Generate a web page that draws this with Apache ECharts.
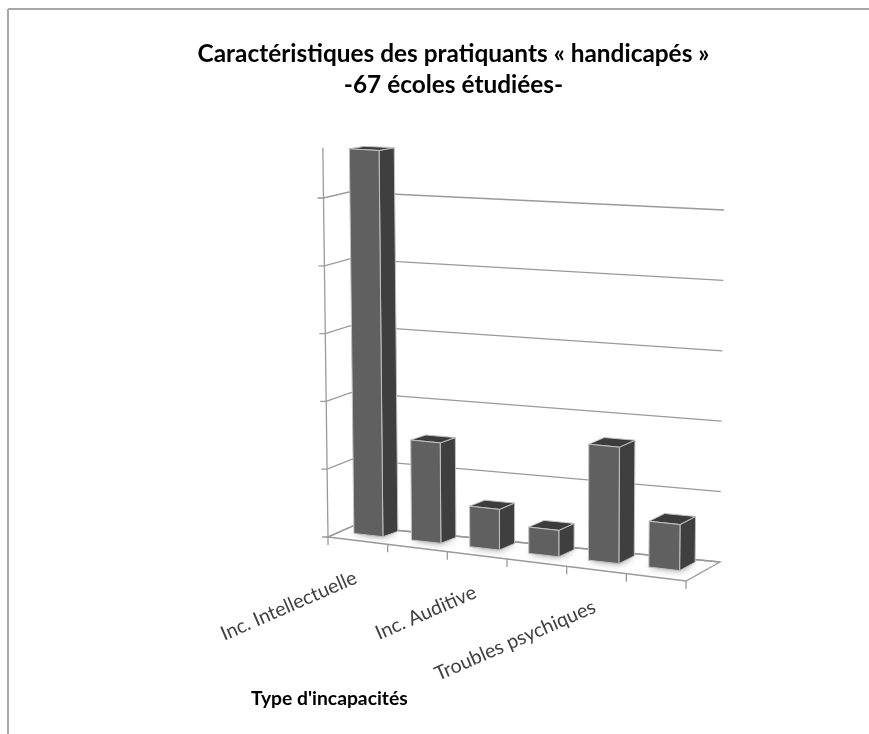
<!DOCTYPE html>
<html>
<head>
<meta charset="utf-8">
<style>
  html, body { margin: 0; padding: 0; background: #fff; }
  #chart { width: 869px; height: 734px; }
</style>
<script src="https://cdn.jsdelivr.net/npm/echarts@6/dist/echarts.min.js"></script>
</head>
<body>
<div id="chart"></div>
<script>
// labels only exist for every other bar in the picture
const categories = ["Inc. Intellectuelle", "", "Inc. Auditive", "", "Troubles psychiques", ""];
const barValues = [57.0, 14.7, 5.9, 3.8, 16.6, 6.5];
const yTicks = [0, 10, 20, 30, 40, 50];
const yTop = 57.4;
const titleLines = ["Caractéristiques des pratiquants « handicapés »", "-67 écoles étudiées-"];
const xAxisName = "Type d'incapacités";

// the 3D box seen on screen: floor corners and the same corners at the last tick
const BOX = {
  fl: [[328, 537], [323.5, 198]],
  fr: [[686, 581], [689, 224]],
  bl: [[353, 526], [349, 192]],
  br: [[720, 562], [724, 210]],
};
// bars sit a little off the walls' perspective
const BAR_BOX = {
  fl: [[328, 537], [323.5, 198]],
  fr: [[682.5, 581], [685.5, 224]],
  bl: [[361, 526], [357, 192]],
  br: [[717, 562], [721, 210]],
  warp: 0.036,
};
const BAR_U = [0.2, 0.705];  // share of the category band
const BAR_W = [0.44, 0.89];  // share of the floor depth

const lerp = (a, b, k) => a + (b - a) * k;

function project(box, u, t, w) {
  const at = (c) => [0, 1].map((d) => lerp(c[0][d], c[1][d], t));
  const fl = at(box.fl), fr = at(box.fr), bl = at(box.bl), br = at(box.br);
  const uw = u - (box.warp || 0) * u * (1 - u);
  return [0, 1].map((d) => lerp(lerp(fl[d], fr[d], uw), lerp(bl[d], br[d], uw), w));
}

// goes through the cartesian scales, then folds the flat grid into the box
function scenePoint(params, api, cat, frac, value, w, box) {
  const g = params.coordSys;
  const band = api.size([1, 0])[0];
  const p = api.coord([cat, value]);
  const u = (p[0] - band / 2 + frac * band - g.x) / g.width;
  const zero = api.coord([cat, 0])[1];
  const ref = api.coord([cat, yTicks[yTicks.length - 1]])[1];
  return project(box || BOX, u, (zero - p[1]) / (zero - ref), w);
}

function renderBar(params, api) {
  const cat = api.value(0), val = api.value(1);
  const pt = (frac, v, w) => scenePoint(params, api, cat, frac, v, w, BAR_BOX);
  const [u0, u1] = BAR_U, [w0, w1] = BAR_W;
  const edge = { stroke: "#c2c2c2", lineWidth: 1, lineJoin: "round" };
  const poly = (points, fill, extra) => ({
    type: "polygon",
    shape: { points },
    style: Object.assign({ fill }, edge, extra),
  });
  return {
    type: "group",
    children: [
      poly(
        [pt(u0, 0, w0), pt(u1, 0, w0), pt(u1, 0, w1), pt(u0, 0, w1)],
        "#999",
        { stroke: "none", shadowBlur: 7, shadowColor: "rgba(0,0,0,0.45)" }
      ),
      poly([pt(u1, 0, w0), pt(u1, 0, w1), pt(u1, val, w1), pt(u1, val, w0)], "#3f3f3f"),
      poly([pt(u0, val, w0), pt(u1, val, w0), pt(u1, val, w1), pt(u0, val, w1)], "#3c3c3c"),
      poly([pt(u0, 0, w0), pt(u1, 0, w0), pt(u1, val, w0), pt(u0, val, w0)], "#606060"),
    ],
  };
}

const gridStroke = { stroke: "#9a9a9a", lineWidth: 1.3, fill: "none" };

function renderWallLine(params, api) {
  const val = api.value(1);
  const last = categories.length - 1;
  const front = scenePoint(params, api, 0, 0, val, 0);
  const back = scenePoint(params, api, 0, 0, val, 1);
  const right = scenePoint(params, api, last, 1, val, 1);
  return {
    type: "polyline",
    shape: { points: [[front[0] - 6, front[1]], front, back, right] },
    style: gridStroke,
  };
}

function renderFrame(params, api) {
  const last = categories.length - 1;
  const corner = (c, f, w) => scenePoint(params, api, c, f, 0, w);
  const children = [
    {
      type: "polygon",
      shape: { points: [corner(0, 0, 0), corner(last, 1, 0), corner(last, 1, 1), corner(0, 0, 1)] },
      style: gridStroke,
    },
    {
      type: "line",
      shape: (() => {
        const a = scenePoint(params, api, 0, 0, 0, 0), b = scenePoint(params, api, 0, 0, yTop, 0);
        return { x1: a[0], y1: a[1], x2: b[0], y2: b[1] };
      })(),
      style: gridStroke,
    },
  ];
  categories.concat("").forEach((_, i) => {
    const p = i > last ? corner(last, 1, 0) : corner(i, 0, 0);
    children.push({
      type: "line",
      shape: { x1: p[0], y1: p[1], x2: p[0], y2: p[1] + 8 },
      style: gridStroke,
    });
  });
  return { type: "group", children };
}

function renderCatLabel(params, api) {
  const cat = api.value(0);
  const p = scenePoint(params, api, cat, 0.5, 0, 0);
  return {
    type: "text",
    x: p[0] - 2,
    y: p[1] + 36,
    rotation: (23.5 * Math.PI) / 180,
    style: {
      text: categories[cat],
      align: "right",
      verticalAlign: "middle",
      fill: "#404040",
      font: "19.7px Lato",
    },
  };
}

const chart = echarts.init(document.getElementById("chart"), null, { renderer: "canvas" });
chart.setOption({
  animation: false,
  backgroundColor: "#fff",
  title: [
    {
      text: titleLines.join("\n"),
      left: 448.5,
      top: 34,
      textAlign: "center",
      textStyle: { fontFamily: "Lato", fontWeight: "bold", fontSize: 24.4, lineHeight: 31, color: "#000" },
    },
    {
      text: xAxisName,
      left: 246,
      top: 684,
      textStyle: { fontFamily: "Lato", fontWeight: "bold", fontSize: 19.3, color: "#000" },
    },
  ],
  graphic: [
    { type: "line", shape: { x1: 8, y1: 9, x2: 869, y2: 9 }, style: { stroke: "#a8a8a8", lineWidth: 2 } },
    { type: "line", shape: { x1: 8, y1: 9, x2: 8, y2: 734 }, style: { stroke: "#a8a8a8", lineWidth: 2 } },
  ],
  grid: { left: 100, top: 100, width: 600, height: 500 },
  xAxis: { type: "category", data: categories, show: false },
  yAxis: { type: "value", min: 0, max: 60, interval: 10, show: false },
  series: [
    {
      type: "custom",
      renderItem: renderWallLine,
      data: yTicks.map((v) => [0, v]),
      z: 1,
    },
    { type: "custom", renderItem: renderFrame, data: [[0, 0]], z: 2 },
    {
      type: "custom",
      renderItem: renderCatLabel,
      data: categories.map((c, i) => [i, 0]).filter((d) => categories[d[0]]),
      z: 3,
    },
    {
      type: "custom",
      renderItem: renderBar,
      data: barValues.map((v, i) => [i, v]),
      z: 4,
    },
  ],
});
</script>
</body>
</html>
